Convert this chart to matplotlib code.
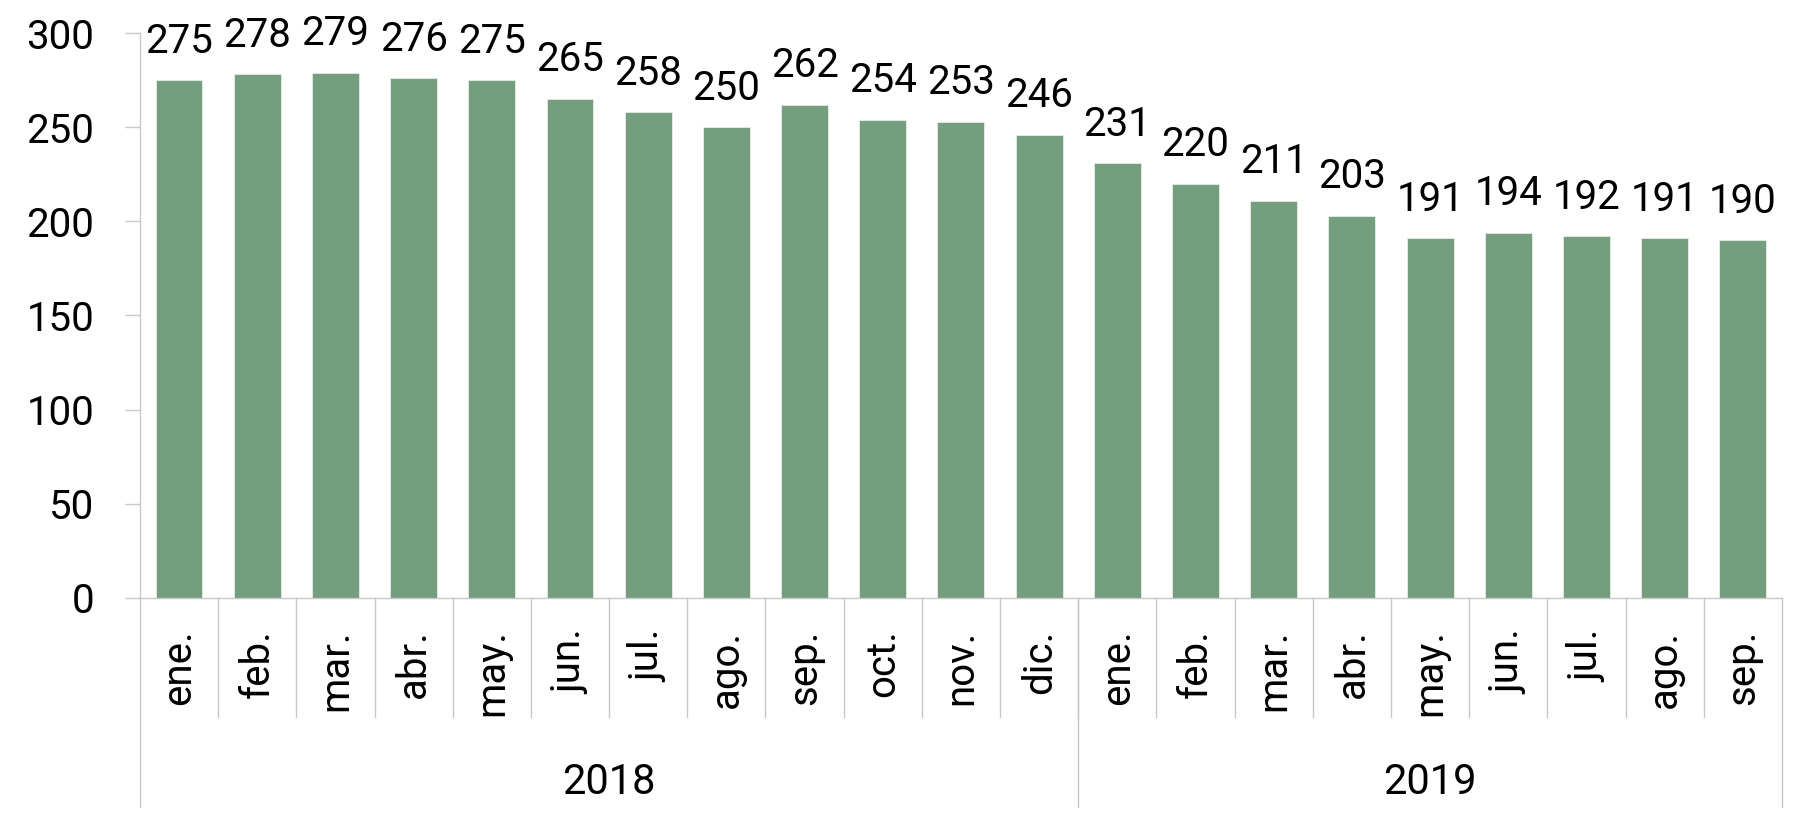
import matplotlib.pyplot as plt
import matplotlib.transforms as mtransforms

months = ['ene.', 'feb.', 'mar.', 'abr.', 'may.', 'jun.', 'jul.', 'ago.', 'sep.', 'oct.', 'nov.', 'dic.',
          'ene.', 'feb.', 'mar.', 'abr.', 'may.', 'jun.', 'jul.', 'ago.', 'sep.']
years = ['2018', '2019']
year_counts = [12, 9]
values = [275, 278, 279, 276, 275, 265, 258, 250, 262, 254, 253, 246,
          231, 220, 211, 203, 191, 194, 192, 191, 190]

num_font = ['Roboto', 'DejaVu Sans']
lab_font = ['Roboto', 'DejaVu Sans']
grey = '#c8c8c8'

fig = plt.figure(figsize=(17.94, 8.15), dpi=100)
ax = fig.add_axes([0.078, 0.2663, 0.9933 - 0.078, 0.9595 - 0.2663])

x = list(range(len(values)))
bars = ax.bar(x, values, width=0.6, color='#749e7e', edgecolor='#e6eee8', linewidth=0.6)

for xi, v in zip(x, values):
    ax.annotate(str(v), (xi, v), xytext=(0, 14), textcoords='offset points',
                ha='center', va='bottom', fontsize=29, family=num_font)

ax.set_xlim(-0.5, len(values) - 0.5)
ax.set_ylim(0, 300)
ax.set_yticks(range(0, 301, 50))
ax.set_yticklabels([str(t) for t in range(0, 301, 50)], family=num_font, fontsize=29)
ax.tick_params(axis='y', length=11, width=1, color=grey, pad=22)
ax.set_xticks([])

for s in ['top', 'right']:
    ax.spines[s].set_visible(False)
ax.spines['left'].set_color(grey)
ax.spines['bottom'].set_color(grey)
ax.spines['left'].set_linewidth(1)
ax.spines['bottom'].set_linewidth(1)

trans = mtransforms.blended_transform_factory(ax.transData, ax.transAxes)
month_bottom = -0.2106
year_bottom = -0.37

# month dividers
for i in range(1, len(values)):
    ax.plot([i - 0.5, i - 0.5], [0, month_bottom], transform=trans, color=grey, lw=1, clip_on=False)

# year dividers
edges = [-0.5]
for c in year_counts:
    edges.append(edges[-1] + c)
for e in edges:
    ax.plot([e, e], [0, year_bottom], transform=trans, color=grey, lw=1, clip_on=False)

# month labels
for xi, m in zip(x, months):
    ax.text(xi, -0.056, m, transform=trans, rotation=90, ha='center', va='top',
            fontsize=29, family=lab_font)

# year labels
for i, y in enumerate(years):
    mid = (edges[i] + edges[i + 1]) / 2
    ax.text(mid, -0.326, y, transform=trans, ha='center', va='center',
            fontsize=30, family=lab_font)

fig.savefig('out.png', dpi=100)
